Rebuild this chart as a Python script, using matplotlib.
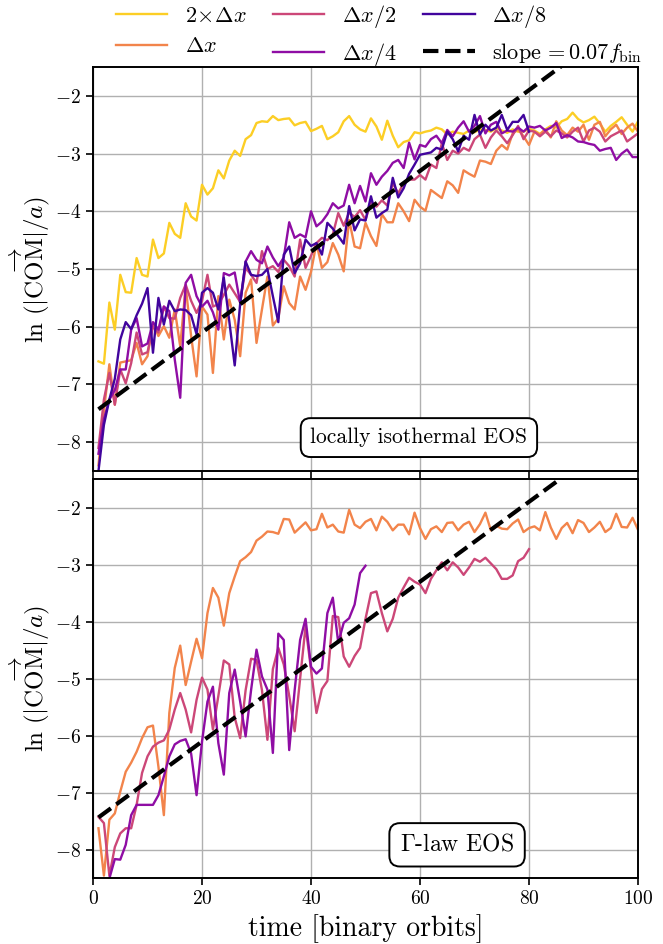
import matplotlib

matplotlib.use("Agg")
import matplotlib.pyplot as plt
import numpy as np
from matplotlib.lines import Line2D

plt.rcParams["font.family"] = "serif"
plt.rcParams["font.serif"] = ["cmr10", "DejaVu Serif"]
plt.rcParams["mathtext.fontset"] = "cm"
plt.rcParams["axes.formatter.use_mathtext"] = True

LABELS = [r"$2\!\times\!\Delta x$", r"$\Delta x$", r"$\Delta x/2$", r"$\Delta x/4$", r"$\Delta x/8$"]
COLORS = [plt.cm.plasma(v) for v in (0.9, 0.7, 0.5, 0.3, 0.1)]
SLOPE = 0.07
INTERCEPT = -7.5

# locally isothermal EOS (top panel), one value per binary orbit starting at t=1
iso_2dx = [
    -6.60, -6.64, -5.58, -6.05, -5.10, -5.40, -5.41, -4.81, -5.10, -5.13,
    -4.49, -4.81, -4.73, -4.20, -4.39, -4.46, -3.86, -4.09, -4.16, -3.54,
    -3.71, -3.60, -3.29, -3.43, -3.12, -2.95, -3.04, -2.75, -2.68, -2.47,
    -2.44, -2.45, -2.35, -2.42, -2.40, -2.39, -2.51, -2.47, -2.45, -2.61,
    -2.57, -2.52, -2.75, -2.70, -2.63, -2.44, -2.35, -2.50, -2.58, -2.62,
    -2.39, -2.53, -2.76, -2.43, -2.69, -2.89, -2.80, -2.77, -2.63, -2.65,
    -2.62, -2.60, -2.55, -2.58, -2.67, -2.62, -2.64, -2.66, -2.60, -2.63,
    -2.58, -2.59, -2.62, -2.56, -2.60, -2.64, -2.58, -2.62, -2.62, -2.57,
    -2.60, -2.66, -2.58, -2.52, -2.55, -2.44, -2.40, -2.29, -2.40, -2.46,
    -2.42, -2.36, -2.48, -2.62, -2.52, -2.45, -2.37, -2.50, -2.62, -2.44,
]
iso_dx = [
    -8.40, -7.45, -6.65, -7.35, -6.62, -6.60, -6.58, -6.28, -6.65, -6.51,
    -5.93, -6.16, -5.99, -6.19, -5.70, -6.34, -5.30, -6.16, -6.86, -5.65,
    -5.79, -6.80, -5.47, -6.22, -5.53, -5.88, -6.51, -5.41, -5.18, -6.28,
    -5.70, -5.13, -5.98, -5.85, -5.30, -5.59, -5.70, -5.13, -5.36, -5.05,
    -4.55, -4.98, -4.88, -4.55, -4.75, -5.04, -4.15, -4.61, -4.64, -4.20,
    -4.43, -4.60, -4.05, -4.19, -4.19, -3.86, -4.00, -4.17, -3.80, -3.92,
    -3.99, -3.63, -3.70, -3.77, -3.48, -3.55, -3.68, -3.29, -3.35, -3.40,
    -3.12, -3.14, -3.18, -2.95, -2.85, -2.93, -2.65, -2.58, -2.70, -2.85,
    -2.62, -2.67, -2.58, -2.72, -2.44, -2.60, -2.68, -2.55, -2.62, -2.50,
    -2.76, -2.50, -2.45, -2.70, -2.58, -2.50, -2.66, -2.55, -2.48, -2.62,
]
iso_dx2 = [
    -8.10, -7.26, -6.80, -7.35, -6.74, -6.98, -6.63, -6.10, -6.48, -6.44,
    -6.00, -6.10, -5.65, -5.85, -5.86, -5.50, -5.27, -5.55, -5.76, -5.55,
    -5.10, -5.65, -5.61, -5.45, -5.27, -5.42, -5.57, -4.98, -5.10, -5.24,
    -4.69, -5.00, -4.95, -5.05, -4.84, -4.95, -5.13, -4.49, -4.98, -4.77,
    -4.55, -4.46, -4.50, -4.40, -4.03, -4.25, -4.02, -4.10, -3.98, -4.15,
    -3.83, -3.92, -3.81, -3.90, -3.51, -3.69, -3.51, -3.45, -3.45, -3.37,
    -3.45, -3.19, -3.25, -2.82, -3.11, -2.95, -3.00, -2.90, -2.95, -2.75,
    -2.67, -2.90, -2.72, -2.60, -2.70, -2.82, -2.68, -2.52, -2.75, -2.60,
    -2.62, -2.70, -2.62, -2.70, -2.60, -2.65, -2.72, -2.62, -2.55, -2.79,
    -2.60, -2.55, -2.62, -2.79, -2.70, -2.65, -2.60, -2.79, -2.72, -2.65,
]
iso_dx4 = [
    -8.20, -7.60, -7.26, -7.10, -6.74, -6.74, -6.05, -5.85, -6.34, -6.29,
    -5.92, -6.05, -5.65, -5.73, -6.57, -7.23, -5.24, -5.10, -5.47, -5.65,
    -5.55, -5.75, -6.05, -5.07, -5.11, -5.06, -5.59, -4.87, -4.69, -4.84,
    -4.90, -4.61, -4.80, -4.95, -4.80, -4.19, -4.46, -4.40, -4.45, -4.00,
    -4.26, -4.18, -4.05, -3.86, -3.95, -3.90, -3.54, -3.86, -3.56, -3.83,
    -3.34, -3.54, -3.40, -3.30, -3.16, -3.11, -3.25, -2.81, -3.10, -2.85,
    -2.88, -2.75, -2.69, -2.82, -2.59, -2.70, -2.55, -2.44, -2.62, -2.52,
    -2.35, -2.65, -2.50, -2.45, -2.65, -2.60, -2.62, -2.55, -2.62, -2.53,
    -2.55, -2.52, -2.60, -2.55, -2.47, -2.73, -2.68, -2.72, -2.79, -2.80,
    -2.83, -2.85, -2.95, -2.92, -2.90, -3.11, -3.00, -2.93, -3.06, -3.06,
]
iso_dx8 = [
    -8.50, -7.70, -7.26, -6.90, -6.22, -5.92, -6.04, -5.80, -5.60, -5.33,
    -6.45, -5.50, -5.96, -5.55, -5.73, -5.70, -5.71, -5.80, -6.13, -5.41,
    -5.33, -5.41, -5.70, -5.15, -5.90, -6.67, -5.60, -4.87, -5.10, -5.12,
    -5.10, -5.00, -5.47, -5.92, -4.75, -4.61, -5.07, -4.90, -4.49, -4.60,
    -4.55, -4.75, -4.20, -4.30, -4.43, -4.56, -3.91, -4.33, -4.14, -4.16,
    -3.74, -4.11, -4.03, -3.97, -3.42, -3.76, -3.60, -3.35, -3.19, -3.02,
    -3.00, -2.98, -2.90, -2.93, -2.62, -2.75, -2.96, -2.69, -2.76, -2.33,
    -2.67, -2.50, -2.60, -2.55, -2.33, -2.59, -2.45, -2.45, -2.33, -2.62,
]

# Gamma-law EOS (bottom panel)
gam_dx = [
    -7.62, -8.45, -7.47, -7.36, -6.98, -6.63, -6.47, -6.28, -6.04, -5.85,
    -5.82, -6.54, -7.39, -5.60, -4.81, -4.42, -5.11, -4.70, -4.30, -4.64,
    -3.85, -3.41, -3.58, -4.07, -3.50, -3.21, -2.94, -2.87, -2.78, -2.58,
    -2.51, -2.42, -2.43, -2.46, -2.20, -2.21, -2.44, -2.35, -2.26, -2.40,
    -2.38, -2.11, -2.35, -2.30, -2.42, -2.44, -2.04, -2.30, -2.36, -2.25,
    -2.20, -2.40, -2.16, -2.25, -2.40, -2.30, -2.30, -2.47, -2.09, -2.36,
    -2.55, -2.38, -2.33, -2.43, -2.27, -2.26, -2.40, -2.30, -2.25, -2.43,
    -2.29, -2.09, -2.40, -2.32, -2.37, -2.38, -2.28, -2.21, -2.43, -2.36,
    -2.33, -2.40, -2.08, -2.35, -2.55, -2.36, -2.27, -2.45, -2.22, -2.27,
    -2.43, -2.35, -2.25, -2.43, -2.36, -2.11, -2.34, -2.35, -2.18, -2.39,
]
gam_dx2 = [
    -7.42, -7.53, -8.45, -7.95, -7.71, -7.62, -7.62, -7.21, -6.65, -6.36,
    -6.19, -6.12, -6.08, -5.89, -5.54, -5.25, -5.54, -5.94, -5.37, -4.98,
    -5.19, -5.89, -5.30, -4.68, -4.75, -5.68, -6.04, -5.20, -4.65, -4.67,
    -5.20, -6.07, -4.83, -4.46, -4.75, -5.30, -5.92, -5.00, -4.08, -4.84,
    -5.60, -5.18, -5.04, -3.90, -3.92, -4.61, -4.79, -4.60, -4.46, -3.95,
    -3.50, -3.47, -3.85, -4.17, -3.95, -3.58, -3.40, -3.23, -3.30, -3.35,
    -3.50, -3.25, -3.10, -2.96, -3.10, -2.96, -3.05, -3.18, -3.05, -2.90,
    -2.95, -2.88, -2.98, -3.08, -3.25, -3.25, -3.19, -2.94, -2.88, -2.73,
]
gam_dx4 = [
    -8.50, -8.16, -8.17, -7.91, -7.39, -7.21, -7.21, -7.21, -7.21, -7.04,
    -6.71, -6.36, -6.15, -6.09, -6.06, -6.31, -7.04, -6.10, -5.40, -5.14,
    -6.13, -6.68, -5.25, -4.84, -5.40, -6.01, -5.20, -4.49, -4.96, -5.19,
    -6.30, -4.21, -4.32, -6.25, -5.20, -4.32, -3.95, -4.79, -4.91, -4.82,
    -3.85, -3.58, -4.37, -4.02, -3.94, -3.70, -3.15, -3.02,
]


def orbits(values, start=1):
    return np.arange(start, start + len(values))


fig = plt.figure(figsize=(6.63, 9.44), dpi=100)
ax_top = fig.add_axes([0.1403, 0.5010, 0.8220, 0.4280])
ax_bot = fig.add_axes([0.1403, 0.0694, 0.8220, 0.4232], sharex=ax_top)

top_series = [iso_2dx, iso_dx, iso_dx2, iso_dx4, iso_dx8]
for vals, col in zip(top_series, COLORS):
    ax_top.plot(orbits(vals), vals, color=col, lw=1.7)

bot_series = [(gam_dx, 1, COLORS[1]), (gam_dx2, 1, COLORS[2]), (gam_dx4, 3, COLORS[3])]
for vals, start, col in bot_series:
    ax_bot.plot(orbits(vals, start), vals, color=col, lw=1.7)

t_fit = np.linspace(1, 100, 200)
for ax in (ax_top, ax_bot):
    ax.plot(t_fit, INTERCEPT + SLOPE * t_fit, "k--", lw=3)
    ax.set_xlim(0, 100)
    ax.set_ylim(-8.5, -1.5)
    ax.set_xticks([0, 20, 40, 60, 80, 100])
    ax.set_yticks([-8, -7, -6, -5, -4, -3, -2])
    ax.grid(True, color="#b0b0b0", lw=1.0)
    ax.tick_params(labelsize=14, width=1.2, length=5)
    for sp in ax.spines.values():
        sp.set_linewidth(1.4)
    ax.set_ylabel(r"$\ln\,(|\overrightarrow{\mathrm{COM}}|/a)$", fontsize=18, labelpad=2)

ax_top.tick_params(labelbottom=False)
ax_bot.set_xlabel(r"time [binary orbits]", fontsize=20, labelpad=4)

box = dict(boxstyle="round,pad=0.45", fc="white", ec="black", lw=1.4)
ax_top.text(59.8, -7.92, "locally isothermal EOS", fontsize=15.5, ha="center", va="center", bbox=box)
ax_bot.text(66.8, -7.91, r"$\Gamma$-law EOS", fontsize=17, ha="center", va="center", bbox=box)

handles = [Line2D([], [], color=c, lw=1.7) for c in COLORS]
handles.append(Line2D([], [], color="k", ls="--", lw=3))
labels = LABELS + [r"slope$\,=0.07f_{\rm bin}$"]
ax_top.legend(
    handles, labels, ncol=3, loc="lower center", bbox_to_anchor=(0.525, 0.976),
    frameon=False, fontsize=16, handlelength=2.3, columnspacing=1.2,
    handletextpad=0.8, labelspacing=0.5, borderaxespad=0.0,
)

fig.savefig("out.png", dpi=100)
